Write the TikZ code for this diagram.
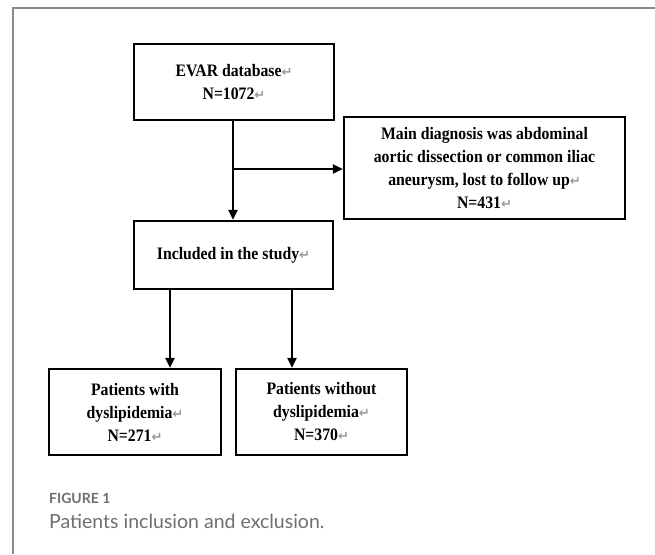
\documentclass[tikz,border=0pt]{standalone}
\usepackage{fontspec}
\setmainfont{Liberation Serif}[FakeStretch=0.9]
\newfontfamily\symfont{DejaVu Sans}
\newfontfamily\capfont{Lato}
\usetikzlibrary{arrows.meta,calc}
\definecolor{framegray}{HTML}{8A8A8A}
\definecolor{capgray}{HTML}{6E6E6E}
\newcommand\retmark{{\color{black!40}\symfont\fontsize{13}{13}\selectfont ↵}}
\tikzset{
  flowbox/.style={draw=black, line width=2.2pt, inner sep=0pt, align=center,
    font=\bfseries\fontsize{17.5}{23}\selectfont},
  flowarrow/.style={line width=2pt, -{Triangle[length=10pt,width=9pt]}},
  framestyle/.style={draw=framegray, line width=1.6pt},
}
\begin{document}
\begin{tikzpicture}[x=1pt,y=-1pt]
\useasboundingbox (0,0) rectangle (655,554);
% frame
\draw[framestyle] (13,554) -- (13,8) -- (655,8);
% boxes
\node[flowbox, minimum width=200pt, minimum height=76pt] (evar) at (234,82)
  {EVAR database\retmark\\N=1072\retmark};
\node[flowbox, minimum width=281pt, minimum height=102pt] (excl) at (484.5,168)
  {Main diagnosis was abdominal\\aortic dissection or common iliac\\aneurysm, lost to follow up\retmark\\N=431\retmark};
\node[flowbox, minimum width=199pt, minimum height=68pt] (incl) at (233.5,255)
  {Included in the study\retmark};
\node[flowbox, minimum width=172pt, minimum height=86pt] (with) at (135,412)
  {Patients with\\dyslipidemia\retmark\\N=271\retmark};
\node[flowbox, minimum width=171pt, minimum height=86pt] (without) at (321.5,412)
  {Patients without\\dyslipidemia\retmark\\N=370\retmark};
% connectors
\coordinate (branch) at (233,169);
\coordinate (wa) at (170,0);
\coordinate (wb) at (292,0);
\draw[flowarrow] (evar.south -| branch) -- (incl.north -| branch);
\draw[flowarrow] (branch) -- (excl.west |- branch);
\draw[flowarrow] (incl.south -| wa) -- (with.north -| wa);
\draw[flowarrow] (incl.south -| wb) -- (without.north -| wb);
% caption
\node[anchor=base west, inner sep=0pt, text=capgray, font=\capfont\bfseries\fontsize{14}{16}\selectfont] (figlabel) at (49,503) {FIGURE 1};
\node[anchor=base west, inner sep=0pt, text=capgray, font=\capfont\fontsize{19.5}{21}\selectfont] (figcaption) at (49,528) {Patients inclusion and exclusion.};
\end{tikzpicture}
\end{document}
